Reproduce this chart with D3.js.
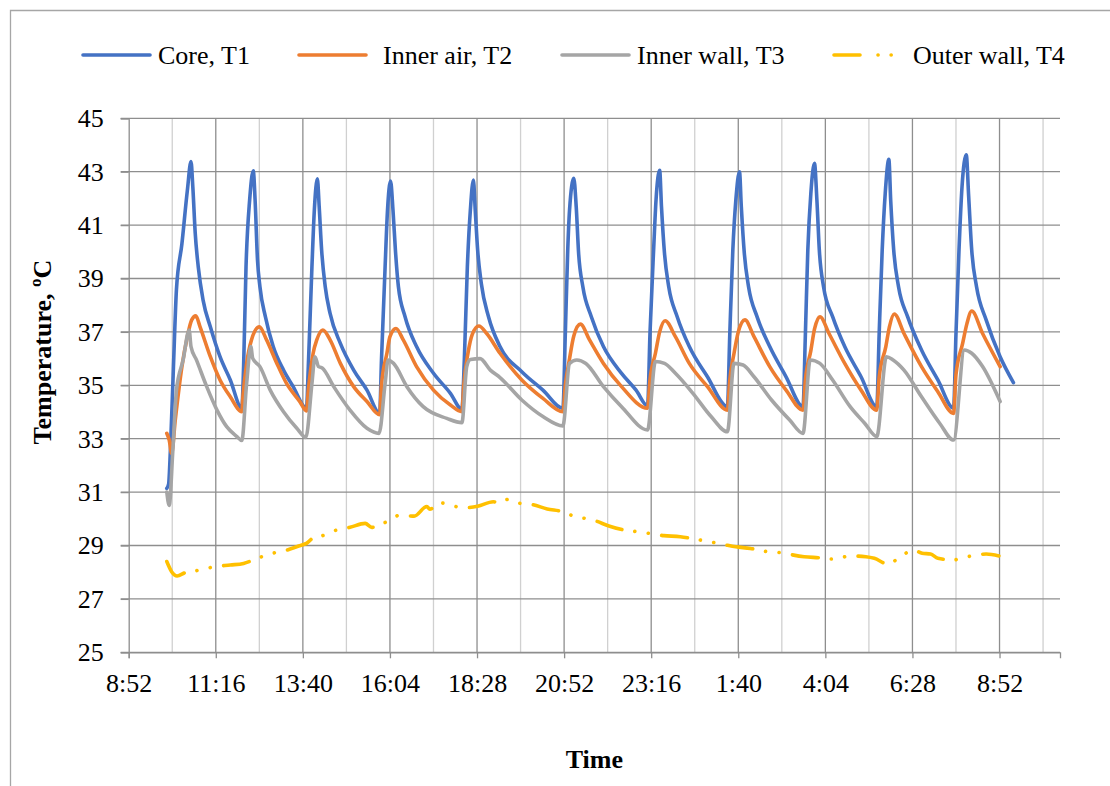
<!DOCTYPE html>
<html>
<head>
    <meta charset="utf-8">
    <script src="https://cdn.jsdelivr.net/npm/d3@7"></script>
    <style>
        body { margin: 0; background: #fff; }
        text { font-family: "Liberation Serif", "Times New Roman", serif; fill: #000; }
    </style>
</head>
<body>
    <svg id="chart"></svg>

    <script>
        // time is in minutes after the first axis label (8:52)
        var startClock = "8:52";
        var xMax = 1540;
        var gridStep = 72, labelStep = 144;
        var yTicks = d3.range(25, 46, 2);

        var seriesNames = ["Core, T1", "Inner air, T2", "Inner wall, T3", "Outer wall, T4"];
        var colors = ["#4472C4", "#ED7D31", "#A5A5A5", "#FFC000"];

        var coreMin = [63, 66, 69, 74, 79, 88, 97, 103, 106, 110, 115, 123, 135, 151, 168, 187,
            190, 194, 200, 206, 209, 213, 217, 226, 239, 256, 272, 294,
            297, 303, 307, 312, 315, 319, 325, 333, 350, 372, 394, 415,
            418, 424, 428, 433, 437, 441, 446, 457, 476, 504, 532, 551,
            555, 560, 565, 570, 573, 577, 583, 595, 614, 650, 685, 718,
            722, 726, 729, 736, 740, 744, 751, 765, 785, 815, 839, 858,
            862, 868, 872, 878, 881, 886, 893, 907, 927, 957, 990,
            994, 999, 1004, 1010, 1013, 1018, 1025, 1039, 1060, 1087, 1115,
            1119, 1123, 1128, 1134, 1138, 1142, 1149, 1164, 1184, 1211, 1237,
            1241, 1246, 1251, 1257, 1260, 1265, 1273, 1288, 1311, 1338, 1364,
            1368, 1373, 1378, 1385, 1389, 1394, 1402, 1418, 1441, 1463];
        var coreTemp = [31.14, 31.3, 32.6, 35.7, 38.6, 40.3, 42.3, 43.38, 42.44, 40.7, 39.44, 38.19, 37.19, 36.07, 35.2, 34.14,
            35.7, 39.44, 41.94, 43.03, 41.94, 39.69, 38.69, 37.57, 36.45, 35.57, 34.95, 34.14,
            35.7, 39.44, 41.57, 42.73, 41.69, 40.07, 38.69, 37.69, 36.57, 35.57, 34.82, 33.95,
            35.95, 39.44, 41.57, 42.65, 41.57, 40.07, 38.69, 37.57, 36.45, 35.45, 34.7, 34.1,
            35.95, 39.44, 41.57, 42.69, 41.57, 40.07, 38.82, 37.57, 36.45, 35.51, 34.82, 34.14,
            36.94, 40.07, 41.57, 42.75, 41.69, 39.94, 38.69, 37.57, 36.45, 35.45, 34.82, 34.23,
            36.94, 40.07, 41.94, 43.05, 41.69, 39.94, 38.69, 37.57, 36.45, 35.32, 34.2,
            36.94, 40.07, 41.94, 43.0, 41.69, 39.94, 38.69, 37.57, 36.45, 35.32, 34.2,
            36.94, 40.07, 42.19, 43.31, 41.94, 40.07, 38.69, 37.57, 36.45, 35.32, 34.2,
            36.94, 40.07, 42.19, 43.46, 41.94, 40.07, 38.69, 37.57, 36.32, 35.2, 34.14,
            36.94, 40.07, 42.44, 43.63, 42.07, 40.07, 38.69, 37.44, 36.07, 35.1];

        var airMin = [63, 67, 71, 77, 88, 97, 104, 111, 118, 135, 151, 168, 187,
            189, 195, 203, 216, 228, 245, 261, 283, 294,
            297, 305, 311, 321, 333, 350, 372, 394, 415,
            418, 427, 432, 442, 454, 476, 504, 532, 551,
            554, 561, 568, 579, 592, 614, 650, 685, 718,
            722, 729, 736, 747, 762, 785, 815, 858,
            862, 871, 878, 887, 904, 927, 957, 990,
            994, 1001, 1008, 1019, 1034, 1060, 1087, 1115,
            1119, 1128, 1134, 1143, 1158, 1184, 1211, 1237,
            1241, 1252, 1258, 1266, 1282, 1311, 1338, 1364,
            1368, 1379, 1386, 1394, 1412, 1441];
        var airTemp = [33.2, 32.95, 32.45, 33.7, 35.7, 36.82, 37.44, 37.6, 37.19, 36.07, 35.2, 34.57, 34.01,
            34.6, 35.82, 36.7, 37.19, 36.7, 35.82, 35.07, 34.39, 34.04,
            34.8, 36.2, 36.7, 37.07, 36.7, 35.82, 34.95, 34.39, 33.9,
            35.0, 36.2, 36.82, 37.13, 36.7, 35.7, 34.82, 34.26, 34.01,
            35.0, 36.2, 36.9, 37.22, 36.94, 36.2, 35.2, 34.51, 34.01,
            35.0, 36.0, 36.85, 37.29, 36.7, 35.82, 34.95, 34.14,
            35.2, 36.2, 37.0, 37.42, 36.82, 35.82, 34.95, 34.07,
            35.2, 36.2, 37.0, 37.45, 36.82, 35.7, 34.82, 34.07,
            35.2, 36.3, 37.1, 37.57, 36.94, 35.82, 34.82, 34.07,
            35.3, 36.45, 37.2, 37.67, 36.94, 35.7, 34.76, 33.95,
            35.4, 36.57, 37.3, 37.78, 36.94, 35.7];

        var wallMin = [63, 67, 73, 79, 90, 100, 103, 112, 129, 146, 162, 179, 187,
            195, 202, 205, 217, 234, 256, 278, 293,
            303, 308, 314, 320, 339, 366, 394, 414,
            424, 429, 438, 460, 487, 526, 551,
            559, 565, 581, 598, 614, 650, 685, 718,
            729, 741, 756, 785, 815, 858,
            871, 886, 904, 933, 963, 990,
            1001, 1016, 1034, 1063, 1093, 1115,
            1127, 1143, 1164, 1193, 1217, 1237,
            1253, 1264, 1282, 1311, 1341, 1364,
            1382, 1394, 1412, 1441];
        var wallTemp = [31.0, 30.5, 32.57, 34.82, 35.95, 37.07, 36.45, 35.95, 34.95, 34.07, 33.45, 33.08, 32.93,
            35.07, 36.45, 36.01, 35.7, 34.82, 34.01, 33.39, 33.05,
            35.07, 36.07, 35.7, 35.65, 34.95, 34.07, 33.39, 33.2,
            35.07, 35.95, 35.82, 34.95, 34.2, 33.76, 33.6,
            35.7, 35.97, 36.0, 35.57, 35.29, 34.45, 33.83, 33.48,
            35.82, 35.95, 35.82, 34.95, 34.2, 33.33,
            35.89, 35.82, 35.45, 34.7, 33.83, 33.26,
            35.82, 35.76, 35.32, 34.45, 33.7, 33.2,
            35.95, 35.82, 35.2, 34.2, 33.58, 33.08,
            36.07, 35.95, 35.57, 34.57, 33.58, 32.95,
            36.32, 36.2, 35.7, 34.39];

        var outerMin = [63, 71, 80, 93, 118, 143, 168, 190, 209, 232, 256, 281, 294, 308, 319, 341, 366, 391,
            402, 413, 427, 449, 472, 493, 498, 515, 529, 554, 577, 603, 611, 628, 642, 668, 692, 717,
            735, 749, 771, 794, 819, 845, 885, 912, 936, 961, 987, 1004, 1028, 1050, 1074, 1117, 1142,
            1167, 1193, 1219, 1233, 1255, 1276, 1297, 1312, 1326, 1338, 1363, 1387, 1418, 1439];
        var outerTemp = [28.4, 28.02, 27.86, 27.98, 28.08, 28.21, 28.27, 28.33, 28.48, 28.68, 28.79, 28.98, 29.08, 29.33, 29.36, 29.56, 29.68, 29.83,
            29.68, 29.77, 29.89, 30.14, 30.1, 30.46, 30.36, 30.6, 30.53, 30.41, 30.47, 30.64, 30.6, 30.73, 30.6, 30.53, 30.37, 30.27,
            30.11, 30.04, 29.93, 29.73, 29.58, 29.51, 29.37, 29.33, 29.24, 29.14, 29.02, 28.95, 28.89, 28.79, 28.74, 28.58, 28.54,
            28.49, 28.61, 28.58, 28.52, 28.31, 28.57, 28.83, 28.71, 28.68, 28.52, 28.46, 28.58, 28.68, 28.61];

        var Width = 1110, Height = 786;
        var plotLeft = 128.7, plotRight = 1060, plotTop = 118.3, plotBottom = 652.3;

        var svg = d3.select("#chart").attr("width", Width).attr("height", Height);

        // chart area border (only top and left edges are in frame)
        svg.append("path")
            .attr("d", "M10.5," + Height + "V10.5H" + Width)
            .attr("fill", "none").attr("stroke", "#a6a6a6").attr("stroke-width", 1.3);

        var x = d3.scaleLinear().domain([0, xMax]).range([plotLeft, plotRight]);
        var y = d3.scaleLinear().domain([25, 45]).range([plotBottom, plotTop]);

        var start = startClock.split(":").map(Number);
        function clock(m) {
            var c = (start[0] * 60 + start[1] + m) % 1440;
            return Math.floor(c / 60) + ":" + d3.format("02")(c % 60);
        }

        // vertical grid
        svg.append("g").selectAll("line")
            .data(d3.range(gridStep, xMax, gridStep))
            .enter().append("line")
                .attr("x1", function(d) { return x(d); }).attr("x2", function(d) { return x(d); })
                .attr("y1", plotTop).attr("y2", plotBottom)
                .attr("stroke", function(d) { return d % labelStep ? "#d0d0d0" : "#8e8e8e"; })
                .attr("stroke-width", 1.3);

        // horizontal grid
        svg.append("g").selectAll("line")
            .data(yTicks)
            .enter().append("line")
                .attr("x1", plotLeft - 8).attr("x2", plotRight)
                .attr("y1", function(d) { return y(d); }).attr("y2", function(d) { return y(d); })
                .attr("stroke", "#8e8e8e").attr("stroke-width", 1.3);

        var yAxis = svg.append("g").attr("transform", "translate(" + plotLeft + ",0)")
            .call(d3.axisLeft(y).tickValues(yTicks).tickSize(8).tickPadding(17));
        var xAxis = svg.append("g").attr("transform", "translate(0," + plotBottom + ")")
            .call(d3.axisBottom(x).tickValues(d3.range(0, 1441, labelStep)).tickFormat(clock)
                .tickSize(6).tickPadding(15));
        [xAxis, yAxis].forEach(function(a) {
            a.select(".domain").attr("stroke", "#8e8e8e").attr("stroke-width", 1.3);
            a.selectAll(".tick line").attr("stroke", "#8e8e8e").attr("stroke-width", 1.3);
            a.selectAll("text").style("font-size", "26px").style("font-family", "Liberation Serif");
        });

        var line = d3.line()
            .x(function(d) { return x(d[0]); })
            .y(function(d) { return y(d[1]); })
            .curve(d3.curveMonotoneX);

        var series = [
            d3.zip(coreMin, coreTemp),
            d3.zip(airMin, airTemp),
            d3.zip(wallMin, wallTemp),
            d3.zip(outerMin, outerTemp)
        ];
        var dash = [null, null, null, "26,13,0.1,13.5,0.1,13.5"];

        series.forEach(function(s, i) {
            svg.append("path")
                .datum(s)
                .attr("d", line)
                .attr("fill", "none")
                .attr("stroke", colors[i])
                .attr("stroke-width", 3.6)
                .attr("stroke-linejoin", "round")
                .attr("stroke-linecap", "round")
                .attr("stroke-dasharray", dash[i]);
        });

        // legend
        var legendX = [83, 299, 562, 834];
        var legend = svg.append("g").selectAll("g")
            .data(seriesNames)
            .enter().append("g")
                .attr("transform", function(d, i) { return "translate(" + legendX[i] + ",55)"; });
        legend.append("line")
            .attr("x1", 0).attr("x2", function(d, i) { return i == 3 ? 64 : 67; })
            .attr("stroke", function(d, i) { return colors[i]; })
            .attr("stroke-width", 3.6).attr("stroke-linecap", "round")
            .attr("stroke-dasharray", function(d, i) { return i == 3 ? "26,18,0.1,13,0.1,13" : null; });
        legend.append("text")
            .attr("x", function(d, i) { return i == 3 ? 79 : i == 1 ? 84 : 75; })
            .attr("dy", "0.35em")
            .style("font-size", "26px")
            .text(function(d) { return d; });

        svg.append("text")
            .attr("transform", "translate(42,352) rotate(-90)")
            .attr("text-anchor", "middle").attr("dy", "0.35em")
            .style("font-size", "26px").style("font-weight", "bold")
            .text("Temperature, ºC");

        svg.append("text")
            .attr("x", (plotLeft + plotRight) / 2).attr("y", 768)
            .attr("text-anchor", "middle")
            .style("font-size", "26px").style("font-weight", "bold")
            .text("Time");
    </script>
</body>
</html>
